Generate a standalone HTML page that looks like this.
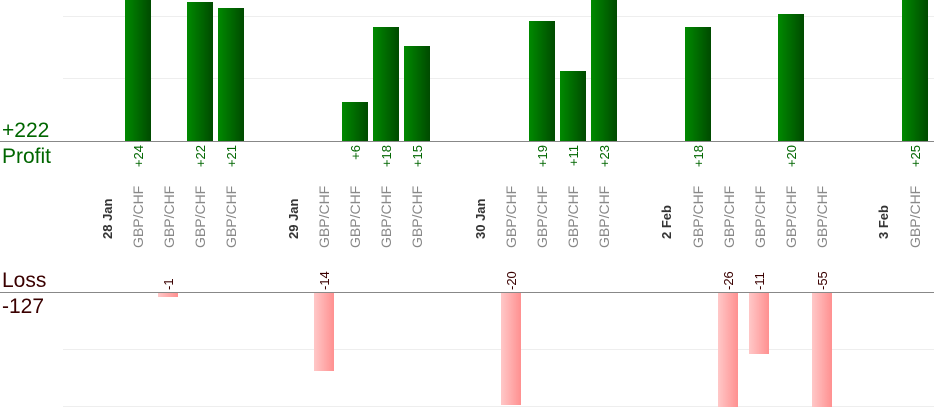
<!DOCTYPE html>
<html><head><meta charset="utf-8"><style>
html,body{margin:0;padding:0;background:#fff;}
svg{display:block;font-family:"Liberation Sans",sans-serif;}
</style></head><body>
<svg width="934" height="420" xmlns="http://www.w3.org/2000/svg">
<defs>
<linearGradient id="g" x1="0" x2="1" y1="0" y2="0"><stop offset="0" stop-color="#008a00"/><stop offset="1" stop-color="#004a00"/></linearGradient>
<linearGradient id="r" x1="0" x2="1" y1="0" y2="0"><stop offset="0" stop-color="#ffc8c8"/><stop offset="1" stop-color="#ff9090"/></linearGradient>
</defs>
<g stroke="#eeeeee" stroke-width="1">
<line x1="63" y1="16.5" x2="934" y2="16.5"/><line x1="63" y1="78.5" x2="934" y2="78.5"/>
<line x1="63" y1="349.5" x2="934" y2="349.5"/><line x1="63" y1="406.5" x2="934" y2="406.5"/>
</g>
<!-- profit bars -->
<g fill="url(#g)">
<rect x="125" y="0" width="26" height="141"/>
<rect x="187" y="2" width="26" height="139"/>
<rect x="218" y="8" width="26" height="133"/>
<rect x="342" y="102" width="26" height="39"/>
<rect x="373" y="27" width="26" height="114"/>
<rect x="404" y="46" width="26" height="95"/>
<rect x="529" y="21" width="26" height="120"/>
<rect x="560" y="71" width="26" height="70"/>
<rect x="591" y="0" width="26" height="141"/>
<rect x="685" y="27" width="26" height="114"/>
<rect x="778" y="14" width="26" height="127"/>
<rect x="902" y="0" width="26" height="141"/>
</g>
<!-- loss bars -->
<g fill="url(#r)">
<rect x="158" y="292" width="20" height="5"/>
<rect x="314" y="292" width="20" height="79"/>
<rect x="501" y="292" width="20" height="113"/>
<rect x="718" y="292" width="20" height="115"/>
<rect x="749" y="292" width="20" height="62"/>
<rect x="812" y="292" width="20" height="115"/>
</g>
<line x1="0" y1="141.5" x2="934" y2="141.5" stroke="#888"/>
<line x1="0" y1="292.5" x2="934" y2="292.5" stroke="#888"/>
<g font-size="21">
<text x="2" y="137" fill="#006600">+222</text>
<text x="2" y="163" fill="#006600">Profit</text>
<text x="2" y="287" fill="#3a0000">Loss</text>
<text x="2" y="313" fill="#3a0000">-127</text>
</g>
<!-- profit value labels -->
<g font-size="13" fill="#006600" text-anchor="end">
<text transform="translate(143,145) rotate(-90)">+24</text>
<text transform="translate(205,145) rotate(-90)">+22</text>
<text transform="translate(236,145) rotate(-90)">+21</text>
<text transform="translate(360,145) rotate(-90)">+6</text>
<text transform="translate(391,145) rotate(-90)">+18</text>
<text transform="translate(422,145) rotate(-90)">+15</text>
<text transform="translate(547,145) rotate(-90)">+19</text>
<text transform="translate(578,145) rotate(-90)">+11</text>
<text transform="translate(609,145) rotate(-90)">+23</text>
<text transform="translate(703,145) rotate(-90)">+18</text>
<text transform="translate(796,145) rotate(-90)">+20</text>
<text transform="translate(920,145) rotate(-90)">+25</text>
</g>
<!-- pair labels -->
<g font-size="14" fill="#888">
<text transform="translate(143,248) rotate(-90)">GBP/CHF</text>
<text transform="translate(174,248) rotate(-90)">GBP/CHF</text>
<text transform="translate(205,248) rotate(-90)">GBP/CHF</text>
<text transform="translate(236,248) rotate(-90)">GBP/CHF</text>
<text transform="translate(329,248) rotate(-90)">GBP/CHF</text>
<text transform="translate(360,248) rotate(-90)">GBP/CHF</text>
<text transform="translate(391,248) rotate(-90)">GBP/CHF</text>
<text transform="translate(422,248) rotate(-90)">GBP/CHF</text>
<text transform="translate(516,248) rotate(-90)">GBP/CHF</text>
<text transform="translate(547,248) rotate(-90)">GBP/CHF</text>
<text transform="translate(578,248) rotate(-90)">GBP/CHF</text>
<text transform="translate(609,248) rotate(-90)">GBP/CHF</text>
<text transform="translate(703,248) rotate(-90)">GBP/CHF</text>
<text transform="translate(734,248) rotate(-90)">GBP/CHF</text>
<text transform="translate(765,248) rotate(-90)">GBP/CHF</text>
<text transform="translate(796,248) rotate(-90)">GBP/CHF</text>
<text transform="translate(827,248) rotate(-90)">GBP/CHF</text>
<text transform="translate(920,248) rotate(-90)">GBP/CHF</text>
</g>
<!-- dates -->
<g font-size="13" font-weight="bold" fill="#333">
<text transform="translate(112,239) rotate(-90)">28 Jan</text>
<text transform="translate(298,239) rotate(-90)">29 Jan</text>
<text transform="translate(485,239) rotate(-90)">30 Jan</text>
<text transform="translate(671,239) rotate(-90)">2 Feb</text>
<text transform="translate(888,239) rotate(-90)">3 Feb</text>
</g>
<!-- loss labels -->
<g font-size="13" fill="#3a0000">
<text transform="translate(173,290) rotate(-90)">-1</text>
<text transform="translate(329,290) rotate(-90)">-14</text>
<text transform="translate(516,290) rotate(-90)">-20</text>
<text transform="translate(733,290) rotate(-90)">-26</text>
<text transform="translate(764,290) rotate(-90)">-11</text>
<text transform="translate(827,290) rotate(-90)">-55</text>
</g>
</svg>
</body></html>
